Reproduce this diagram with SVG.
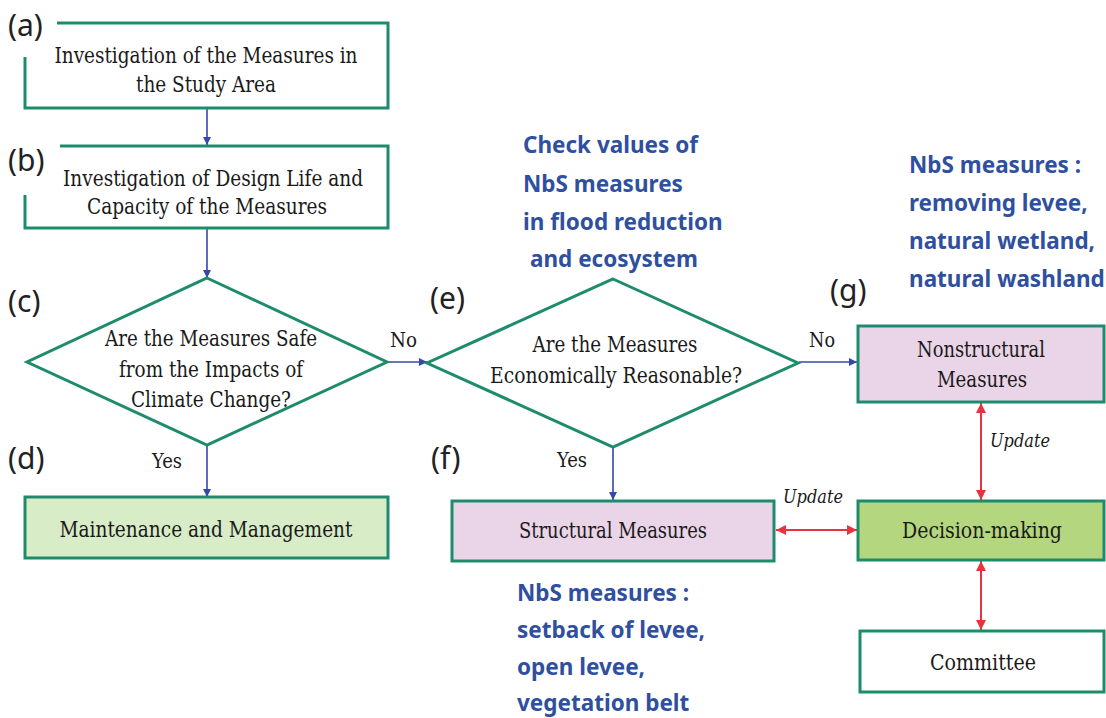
<svg xmlns="http://www.w3.org/2000/svg" width="1106" height="718" viewBox="0 0 1106 718">
<style>
.box{stroke:#1e8c6c;stroke-width:3;}
.t{font-family:"DejaVu Serif",serif;font-stretch:condensed;font-size:23px;fill:#1a1a1a;text-anchor:middle;}
.s{font-family:"DejaVu Serif",serif;font-stretch:condensed;font-size:21px;fill:#1a1a1a;}
.it{font-family:"DejaVu Serif",serif;font-style:italic;font-size:19px;fill:#1a1a1a;}
.lab{font-family:"Noto Sans",sans-serif;font-size:30px;fill:#222;}
.nbs{font-family:"Noto Sans",sans-serif;font-weight:bold;font-size:22.5px;fill:#2f4f9f;}
.blue{stroke:#3548a8;stroke-width:1.6;fill:none;}
.red{stroke:#e5343e;stroke-width:2;fill:none;}
</style>
<defs>
<marker id="ab" viewBox="0 0 10 10" refX="10" refY="5" markerWidth="8" markerHeight="8" markerUnits="userSpaceOnUse" orient="auto"><path d="M0,0 L10,5 L0,10 z" fill="#3548a8"/></marker>
<marker id="ar" viewBox="0 0 10 10" refX="10" refY="5" markerWidth="10" markerHeight="10" markerUnits="userSpaceOnUse" orient="auto-start-reverse"><path d="M0,0 L10,5 L0,10 z" fill="#e5343e"/></marker>
</defs>
<rect width="1106" height="718" fill="#fff"/>

<g id="connectors">
<line class="blue" x1="207" y1="108" x2="207" y2="145" marker-end="url(#ab)"/>
<line class="blue" x1="207" y1="228" x2="207" y2="278" marker-end="url(#ab)"/>
<line class="blue" x1="387" y1="362" x2="427" y2="362" marker-end="url(#ab)"/>
<line class="blue" x1="207" y1="445" x2="207" y2="497" marker-end="url(#ab)"/>
<line class="blue" x1="613" y1="447" x2="613" y2="500" marker-end="url(#ab)"/>
<line class="blue" x1="799" y1="362" x2="857" y2="362" marker-end="url(#ab)"/>
<line class="red" x1="981" y1="403" x2="981" y2="500" marker-start="url(#ar)" marker-end="url(#ar)"/>
<line class="red" x1="776" y1="530" x2="857" y2="530" marker-start="url(#ar)" marker-end="url(#ar)"/>
<line class="red" x1="981" y1="561" x2="981" y2="630" marker-start="url(#ar)" marker-end="url(#ar)"/>
<text class="s" x="390" y="347" textLength="27" lengthAdjust="spacingAndGlyphs">No</text>
<text class="s" x="809" y="347" textLength="26" lengthAdjust="spacingAndGlyphs">No</text>
<text class="s" x="152" y="468" textLength="30" lengthAdjust="spacingAndGlyphs">Yes</text>
<text class="s" x="557" y="467" textLength="30" lengthAdjust="spacingAndGlyphs">Yes</text>
<text class="it" x="990" y="447" textLength="60" lengthAdjust="spacingAndGlyphs">Update</text>
<text class="it" x="783" y="503" textLength="60" lengthAdjust="spacingAndGlyphs">Update</text>
</g>

<g id="node-a">
<path class="box" fill="#fff" d="M57,23 H388 V108 H25 V57"/>
<text class="lab" x="8" y="36">(a)</text>
<text class="t" x="206" y="63" textLength="303" lengthAdjust="spacingAndGlyphs">Investigation of the Measures in</text>
<text class="t" x="206" y="92" textLength="140" lengthAdjust="spacingAndGlyphs">the Study Area</text>
</g>

<g id="node-b">
<path class="box" fill="#fff" d="M60,146 H388 V228 H25 V195"/>
<text class="lab" x="8" y="171">(b)</text>
<text class="t" x="213" y="186" textLength="300" lengthAdjust="spacingAndGlyphs">Investigation of Design Life and</text>
<text class="t" x="207" y="214" textLength="240" lengthAdjust="spacingAndGlyphs">Capacity of the Measures</text>
</g>

<g id="node-c">
<polygon class="box" fill="#fff" points="207,278 387,362 207,445 27,362"/>
<text class="lab" x="8" y="312">(c)</text>
<text class="t" x="211" y="346" textLength="212" lengthAdjust="spacingAndGlyphs">Are the Measures Safe</text>
<text class="t" x="211" y="377" textLength="184" lengthAdjust="spacingAndGlyphs">from the Impacts of</text>
<text class="t" x="211" y="407" textLength="160" lengthAdjust="spacingAndGlyphs">Climate Change?</text>
</g>

<g id="node-d">
<rect class="box" fill="#d8ecc8" x="25" y="497" width="363" height="61"/>
<text class="lab" x="8" y="469">(d)</text>
<text class="t" x="206" y="537" textLength="293" lengthAdjust="spacingAndGlyphs">Maintenance and Management</text>
</g>

<g id="node-e">
<polygon class="box" fill="#fff" points="613,279 798,363 613,447 427,363"/>
<text class="lab" x="430" y="309">(e)</text>
<text class="t" x="615" y="352" textLength="165" lengthAdjust="spacingAndGlyphs">Are the Measures</text>
<text class="t" x="616" y="383" textLength="252" lengthAdjust="spacingAndGlyphs">Economically Reasonable?</text>
</g>

<g id="node-f">
<rect class="box" fill="#ead4e7" x="452" y="501" width="322" height="60"/>
<text class="lab" x="431" y="469">(f)</text>
<text class="t" x="613" y="538" textLength="188" lengthAdjust="spacingAndGlyphs">Structural Measures</text>
</g>

<g id="node-g">
<rect class="box" fill="#ead4e7" x="858" y="326" width="246" height="76"/>
<text class="lab" x="830" y="301">(g)</text>
<text class="t" x="981" y="357" textLength="128" lengthAdjust="spacingAndGlyphs">Nonstructural</text>
<text class="t" x="982" y="387" textLength="90" lengthAdjust="spacingAndGlyphs">Measures</text>
</g>

<g id="node-decision">
<rect class="box" fill="#b4d67e" x="858" y="501" width="246" height="59"/>
<text class="t" x="982" y="538" textLength="160" lengthAdjust="spacingAndGlyphs">Decision-making</text>
</g>

<g id="node-committee">
<rect class="box" fill="#fff" x="860" y="631" width="244" height="61"/>
<text class="t" x="983" y="670" textLength="106" lengthAdjust="spacingAndGlyphs">Committee</text>
</g>

<g id="note-top">
<text class="nbs" x="523" y="153">Check values of</text>
<text class="nbs" x="523" y="192">NbS measures</text>
<text class="nbs" x="523" y="230">in flood reduction</text>
<text class="nbs" x="530" y="267">and ecosystem</text>
</g>

<g id="note-right">
<text class="nbs" x="909" y="173">NbS measures :</text>
<text class="nbs" x="909" y="211">removing levee,</text>
<text class="nbs" x="909" y="249">natural wetland,</text>
<text class="nbs" x="909" y="287">natural washland</text>
</g>

<g id="note-bottom">
<text class="nbs" x="517" y="601">NbS measures :</text>
<text class="nbs" x="517" y="638">setback of levee,</text>
<text class="nbs" x="517" y="675">open levee,</text>
<text class="nbs" x="517" y="711">vegetation belt</text>
</g>
</svg>
